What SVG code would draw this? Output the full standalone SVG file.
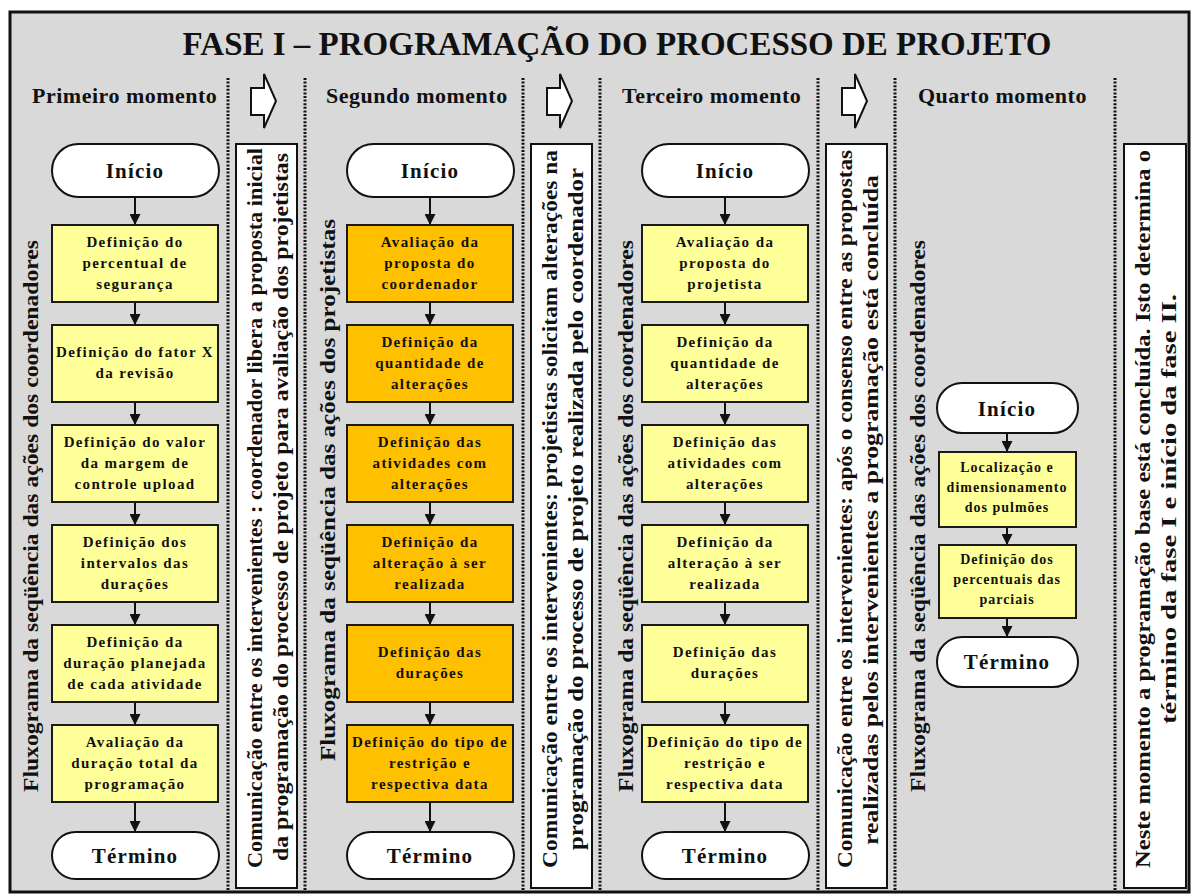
<svg xmlns="http://www.w3.org/2000/svg" width="1193" height="896" viewBox="0 0 1193 896">
<defs>
<style>
.t{font-family:"Liberation Serif","Times New Roman",serif;font-weight:bold;fill:#111}
.title{font-size:33px}
.hdr{font-size:22px;letter-spacing:0.5px}
.bx{font-size:15px;letter-spacing:1.4px;text-anchor:middle}
.bx4{font-size:14px;letter-spacing:1px;text-anchor:middle}
.pl{font-size:21px;letter-spacing:1.2px;text-anchor:middle}
.vt{font-size:21px;text-anchor:middle}
.ct{font-size:22px;text-anchor:middle}
.box{stroke:#1a1a1a;stroke-width:2}
.y{fill:#ffff99}
.o{fill:#ffc000}
.pill{fill:#fff;stroke:#111;stroke-width:2}
.cbox{fill:#fff;stroke:#111;stroke-width:2}
.dot{stroke:#111;stroke-width:3;stroke-dasharray:2 1.6;fill:none}
.barrow{fill:#fff;stroke:#111;stroke-width:2;stroke-linejoin:miter}
.con{stroke:#111;stroke-width:2;fill:none;marker-end:url(#ah)}
</style>
<marker id="ah" markerUnits="userSpaceOnUse" markerWidth="12" markerHeight="11" refX="11" refY="5.5" orient="auto">
<path d="M0,0 L11,5.5 L0,11 z" fill="#111"/>
</marker>
</defs>

<rect x="10" y="12" width="1179" height="880" fill="#d9d9d9" stroke="#111" stroke-width="3"/>

<text class="t title" x="617" y="55" text-anchor="middle">FASE I – PROGRAMAÇÃO DO PROCESSO DE PROJETO</text>

<g id="headers">
<text class="t hdr" x="32" y="103">Primeiro momento</text>
<text class="t hdr" x="326" y="103">Segundo momento</text>
<text class="t hdr" x="622" y="103">Terceiro momento</text>
<text class="t hdr" x="918" y="103">Quarto momento</text>
</g>

<g id="separators">
<line class="dot" x1="228" y1="78" x2="228" y2="890"/>
<line class="dot" x1="305" y1="78" x2="305" y2="890"/>
<line class="dot" x1="523" y1="78" x2="523" y2="890"/>
<line class="dot" x1="600" y1="78" x2="600" y2="890"/>
<line class="dot" x1="818" y1="78" x2="818" y2="890"/>
<line class="dot" x1="895" y1="78" x2="895" y2="890"/>
<line class="dot" x1="1115" y1="78" x2="1115" y2="890"/>
</g>

<g id="block-arrows">
<polygon class="barrow" points="251,88 264,88 264,74 276,101 264,128 264,115 251,115"/>
<polygon class="barrow" points="547,88 560,88 560,74 572,101 560,128 560,115 547,115"/>
<polygon class="barrow" points="842,88 855,88 855,74 867,101 855,128 855,115 842,115"/>
</g>

<g id="labels">
<text class="t vt" transform="translate(38,516) rotate(-90)" textLength="552" lengthAdjust="spacingAndGlyphs">Fluxograma da seqüência das ações dos coordenadores</text>
<text class="t vt" transform="translate(335,490) rotate(-90)" textLength="542" lengthAdjust="spacingAndGlyphs">Fluxograma da seqüência das ações dos projetistas</text>
<text class="t vt" transform="translate(633,516) rotate(-90)" textLength="552" lengthAdjust="spacingAndGlyphs">Fluxograma da seqüência das ações dos coordenadores</text>
<text class="t vt" transform="translate(925,516) rotate(-90)" textLength="552" lengthAdjust="spacingAndGlyphs">Fluxograma da seqüência das ações dos coordenadores</text>
</g>

<g id="comm1">
<rect class="cbox" x="236" y="144" width="61" height="744"/>
<text class="t ct" transform="translate(262,508) rotate(-90)" textLength="720" lengthAdjust="spacingAndGlyphs">Comunicação entre os intervenientes : coordenador libera a proposta inicial</text>
<text class="t ct" transform="translate(288,507) rotate(-90)" textLength="708" lengthAdjust="spacingAndGlyphs">da programação do processo de projeto para avaliação dos projetistas</text>
</g>
<g id="comm2">
<rect class="cbox" x="531" y="144" width="61" height="744"/>
<text class="t ct" transform="translate(557,509) rotate(-90)" textLength="718" lengthAdjust="spacingAndGlyphs">Comunicação entre os intervenientes: projetistas solicitam alterações na</text>
<text class="t ct" transform="translate(583,509) rotate(-90)" textLength="682" lengthAdjust="spacingAndGlyphs">programação do processo de projeto  realizada pelo coordenador</text>
</g>
<g id="comm3">
<rect class="cbox" x="826" y="144" width="61" height="744"/>
<text class="t ct" transform="translate(852,509) rotate(-90)" textLength="718" lengthAdjust="spacingAndGlyphs">Comunicação entre os intervenientes: após o consenso entre as propostas</text>
<text class="t ct" transform="translate(878,510) rotate(-90)" textLength="670" lengthAdjust="spacingAndGlyphs">realizadas pelos intervenientes a programação está concluída</text>
</g>
<g id="comm4">
<rect class="cbox" x="1124" y="144" width="62" height="744"/>
<text class="t ct" transform="translate(1150,509) rotate(-90)" textLength="718" lengthAdjust="spacingAndGlyphs">Neste momento a programação  base está concluída. Isto determina o</text>
<text class="t ct" transform="translate(1176,509) rotate(-90)" textLength="430" lengthAdjust="spacingAndGlyphs">término da fase I e início da fase II.</text>
</g>

<g id="connectors">
<line class="con" x1="135" y1="197" x2="135" y2="225"/>
<line class="con" x1="135" y1="302" x2="135" y2="325"/>
<line class="con" x1="135" y1="402" x2="135" y2="425"/>
<line class="con" x1="135" y1="502" x2="135" y2="525"/>
<line class="con" x1="135" y1="602" x2="135" y2="625"/>
<line class="con" x1="135" y1="702" x2="135" y2="725"/>
<line class="con" x1="135" y1="802" x2="135" y2="832"/>
<line class="con" x1="430" y1="197" x2="430" y2="225"/>
<line class="con" x1="430" y1="302" x2="430" y2="325"/>
<line class="con" x1="430" y1="402" x2="430" y2="425"/>
<line class="con" x1="430" y1="502" x2="430" y2="525"/>
<line class="con" x1="430" y1="602" x2="430" y2="625"/>
<line class="con" x1="430" y1="702" x2="430" y2="725"/>
<line class="con" x1="430" y1="802" x2="430" y2="832"/>
<line class="con" x1="725" y1="197" x2="725" y2="225"/>
<line class="con" x1="725" y1="302" x2="725" y2="325"/>
<line class="con" x1="725" y1="402" x2="725" y2="425"/>
<line class="con" x1="725" y1="502" x2="725" y2="525"/>
<line class="con" x1="725" y1="602" x2="725" y2="625"/>
<line class="con" x1="725" y1="702" x2="725" y2="725"/>
<line class="con" x1="725" y1="802" x2="725" y2="832"/>
<line class="con" x1="1007" y1="433" x2="1007" y2="452"/>
<line class="con" x1="1007" y1="527" x2="1007" y2="545"/>
<line class="con" x1="1007" y1="618" x2="1007" y2="637"/>
</g>

<!-- Column 1 -->
<g id="c1-inicio"><rect class="pill" x="52" y="144" width="167" height="53" rx="26.5"/><text class="t pl" x="135" y="178">Início</text></g>
<g id="c1-b1"><rect class="box y" x="52" y="225" width="166" height="77"/><text class="t bx" x="135" y="247">Definição do</text><text class="t bx" x="135" y="268">percentual de</text><text class="t bx" x="135" y="289">segurança</text></g>
<g id="c1-b2"><rect class="box y" x="52" y="325" width="166" height="77"/><text class="t bx" x="135" y="357">Definição do fator X</text><text class="t bx" x="135" y="378">da revisão</text></g>
<g id="c1-b3"><rect class="box y" x="52" y="425" width="166" height="77"/><text class="t bx" x="135" y="447">Definição do valor</text><text class="t bx" x="135" y="468">da margem de</text><text class="t bx" x="135" y="489">controle upload</text></g>
<g id="c1-b4"><rect class="box y" x="52" y="525" width="166" height="77"/><text class="t bx" x="135" y="547">Definição dos</text><text class="t bx" x="135" y="568">intervalos das</text><text class="t bx" x="135" y="589">durações</text></g>
<g id="c1-b5"><rect class="box y" x="52" y="625" width="166" height="77"/><text class="t bx" x="135" y="647">Definição da</text><text class="t bx" x="135" y="668">duração planejada</text><text class="t bx" x="135" y="689">de cada atividade</text></g>
<g id="c1-b6"><rect class="box y" x="52" y="725" width="166" height="77"/><text class="t bx" x="135" y="747">Avaliação da</text><text class="t bx" x="135" y="768">duração total da</text><text class="t bx" x="135" y="789">programação</text></g>
<g id="c1-termino"><rect class="pill" x="52" y="832" width="167" height="47" rx="23.5"/><text class="t pl" x="135" y="863">Término</text></g>

<!-- Column 2 -->
<g id="c2-inicio"><rect class="pill" x="347" y="144" width="167" height="53" rx="26.5"/><text class="t pl" x="430" y="178">Início</text></g>
<g id="c2-b1"><rect class="box o" x="347" y="225" width="166" height="77"/><text class="t bx" x="430" y="247">Avaliação da</text><text class="t bx" x="430" y="268">proposta do</text><text class="t bx" x="430" y="289">coordenador</text></g>
<g id="c2-b2"><rect class="box o" x="347" y="325" width="166" height="77"/><text class="t bx" x="430" y="347">Definição da</text><text class="t bx" x="430" y="368">quantidade de</text><text class="t bx" x="430" y="389">alterações</text></g>
<g id="c2-b3"><rect class="box o" x="347" y="425" width="166" height="77"/><text class="t bx" x="430" y="447">Definição das</text><text class="t bx" x="430" y="468">atividades com</text><text class="t bx" x="430" y="489">alterações</text></g>
<g id="c2-b4"><rect class="box o" x="347" y="525" width="166" height="77"/><text class="t bx" x="430" y="547">Definição da</text><text class="t bx" x="430" y="568">alteração à ser</text><text class="t bx" x="430" y="589">realizada</text></g>
<g id="c2-b5"><rect class="box o" x="347" y="625" width="166" height="77"/><text class="t bx" x="430" y="657">Definição das</text><text class="t bx" x="430" y="678">durações</text></g>
<g id="c2-b6"><rect class="box o" x="347" y="725" width="166" height="77"/><text class="t bx" x="430" y="747">Definição do tipo de</text><text class="t bx" x="430" y="768">restrição e</text><text class="t bx" x="430" y="789">respectiva data</text></g>
<g id="c2-termino"><rect class="pill" x="347" y="832" width="167" height="47" rx="23.5"/><text class="t pl" x="430" y="863">Término</text></g>

<!-- Column 3 -->
<g id="c3-inicio"><rect class="pill" x="642" y="144" width="167" height="53" rx="26.5"/><text class="t pl" x="725" y="178">Início</text></g>
<g id="c3-b1"><rect class="box y" x="642" y="225" width="166" height="77"/><text class="t bx" x="725" y="247">Avaliação da</text><text class="t bx" x="725" y="268">proposta do</text><text class="t bx" x="725" y="289">projetista</text></g>
<g id="c3-b2"><rect class="box y" x="642" y="325" width="166" height="77"/><text class="t bx" x="725" y="347">Definição da</text><text class="t bx" x="725" y="368">quantidade de</text><text class="t bx" x="725" y="389">alterações</text></g>
<g id="c3-b3"><rect class="box y" x="642" y="425" width="166" height="77"/><text class="t bx" x="725" y="447">Definição das</text><text class="t bx" x="725" y="468">atividades com</text><text class="t bx" x="725" y="489">alterações</text></g>
<g id="c3-b4"><rect class="box y" x="642" y="525" width="166" height="77"/><text class="t bx" x="725" y="547">Definição da</text><text class="t bx" x="725" y="568">alteração à ser</text><text class="t bx" x="725" y="589">realizada</text></g>
<g id="c3-b5"><rect class="box y" x="642" y="625" width="166" height="77"/><text class="t bx" x="725" y="657">Definição das</text><text class="t bx" x="725" y="678">durações</text></g>
<g id="c3-b6"><rect class="box y" x="642" y="725" width="166" height="77"/><text class="t bx" x="725" y="747">Definição do tipo de</text><text class="t bx" x="725" y="768">restrição e</text><text class="t bx" x="725" y="789">respectiva data</text></g>
<g id="c3-termino"><rect class="pill" x="642" y="832" width="167" height="47" rx="23.5"/><text class="t pl" x="725" y="863">Término</text></g>

<!-- Column 4 -->
<g id="c4-inicio"><rect class="pill" x="937" y="383" width="141" height="50" rx="25"/><text class="t pl" x="1007" y="416">Início</text></g>
<g id="c4-b1"><rect class="box y" x="939" y="452" width="137" height="75"/><text class="t bx4" x="1007" y="472">Localização e</text><text class="t bx4" x="1007" y="492">dimensionamento</text><text class="t bx4" x="1007" y="512">dos pulmões</text></g>
<g id="c4-b2"><rect class="box y" x="939" y="545" width="137" height="73"/><text class="t bx4" x="1007" y="564">Definição dos</text><text class="t bx4" x="1007" y="584">percentuais das</text><text class="t bx4" x="1007" y="604">parciais</text></g>
<g id="c4-termino"><rect class="pill" x="937" y="637" width="141" height="50" rx="25"/><text class="t pl" x="1007" y="669">Término</text></g>
</svg>
